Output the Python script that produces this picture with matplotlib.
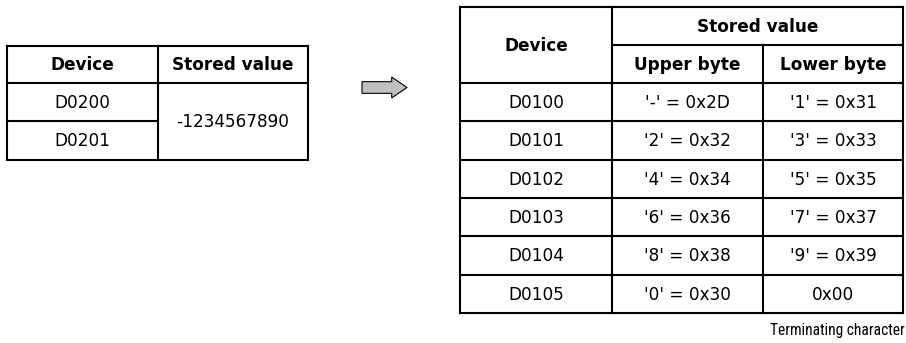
import matplotlib.pyplot as plt

# left table data
src_devices = ["D0200", "D0201"]
src_value = "-1234567890"

# right table data
dst_devices = ["D0100", "D0101", "D0102", "D0103", "D0104", "D0105"]
upper_bytes = ["'-' = 0x2D", "'2' = 0x32", "'4' = 0x34", "'6' = 0x36", "'8' = 0x38", "'0' = 0x30"]
lower_bytes = ["'1' = 0x31", "'3' = 0x33", "'5' = 0x35", "'7' = 0x37", "'9' = 0x39", "0x00"]
note = "Terminating character"

W, H = 906, 343
fig = plt.figure(figsize=(W / 100, H / 100), dpi=100)
ax = fig.add_axes([0, 0, 1, 1])
ax.set_xlim(0, W)
ax.set_ylim(H, 0)
ax.axis("off")

LW = 1.5
FS = 12.2
FAM = "DejaVu Sans"


def hline(x0, x1, y):
    ax.plot([x0, x1], [y, y], color="black", lw=LW, solid_capstyle="projecting")


def vline(x, y0, y1):
    ax.plot([x, x], [y0, y1], color="black", lw=LW, solid_capstyle="projecting")


def cell_text(x0, x1, y0, y1, s, bold=False):
    ax.text((x0 + x1) / 2, (y0 + y1) / 2 + 1, s, ha="center", va="center",
            fontsize=FS, family=FAM, fontweight="bold" if bold else "normal")


# ---------------- left table ----------------
lx = [7, 158, 308]
ltop, lhead = 46, 83
lrow = 38.3
lbot = lhead + lrow * len(src_devices)

hline(lx[0], lx[2], ltop)
hline(lx[0], lx[2], lhead)
hline(lx[0], lx[2], lbot)
for i in range(1, len(src_devices)):
    hline(lx[0], lx[1], lhead + lrow * i)
for x in lx:
    vline(x, ltop, lbot)

cell_text(lx[0], lx[1], ltop, lhead, "Device", bold=True)
cell_text(lx[1], lx[2], ltop, lhead, "Stored value", bold=True)
for i, d in enumerate(src_devices):
    cell_text(lx[0], lx[1], lhead + lrow * i, lhead + lrow * (i + 1), d)
cell_text(lx[1], lx[2], lhead, lbot, src_value)

# ---------------- arrow ----------------
ax.annotate("", xy=(407, 87.5), xytext=(362, 87.5),
            arrowprops=dict(arrowstyle="simple,head_length=0.55,head_width=0.75,tail_width=0.42",
                            fc="#c0c0c0", ec="black", lw=0.8, shrinkA=0, shrinkB=0,
                            mutation_scale=20))

# ---------------- right table ----------------
rx = [460, 612, 763, 903]
rtop, rmid, rhead = 7, 45, 83
rrow = 38.3
rbot = rhead + rrow * len(dst_devices)

hline(rx[0], rx[3], rtop)
hline(rx[1], rx[3], rmid)
for i in range(len(dst_devices) + 1):
    hline(rx[0], rx[3], rhead + rrow * i)
vline(rx[0], rtop, rbot)
vline(rx[1], rtop, rbot)
vline(rx[2], rmid, rbot)
vline(rx[3], rtop, rbot)

cell_text(rx[0], rx[1], rtop, rhead, "Device", bold=True)
cell_text(rx[1], rx[3], rtop, rmid, "Stored value", bold=True)
cell_text(rx[1], rx[2], rmid, rhead, "Upper byte", bold=True)
cell_text(rx[2], rx[3], rmid, rhead, "Lower byte", bold=True)
for i, (d, u, l) in enumerate(zip(dst_devices, upper_bytes, lower_bytes)):
    y0, y1 = rhead + rrow * i, rhead + rrow * (i + 1)
    cell_text(rx[0], rx[1], y0, y1, d)
    cell_text(rx[1], rx[2], y0, y1, u)
    cell_text(rx[2], rx[3], y0, y1, l)

# condensed font for the footnote
ax.text(905, 331, note, ha="right", va="center", fontsize=11.2,
        family=["Roboto Condensed", "DejaVu Sans"])

fig.savefig("out.png", dpi=100)
